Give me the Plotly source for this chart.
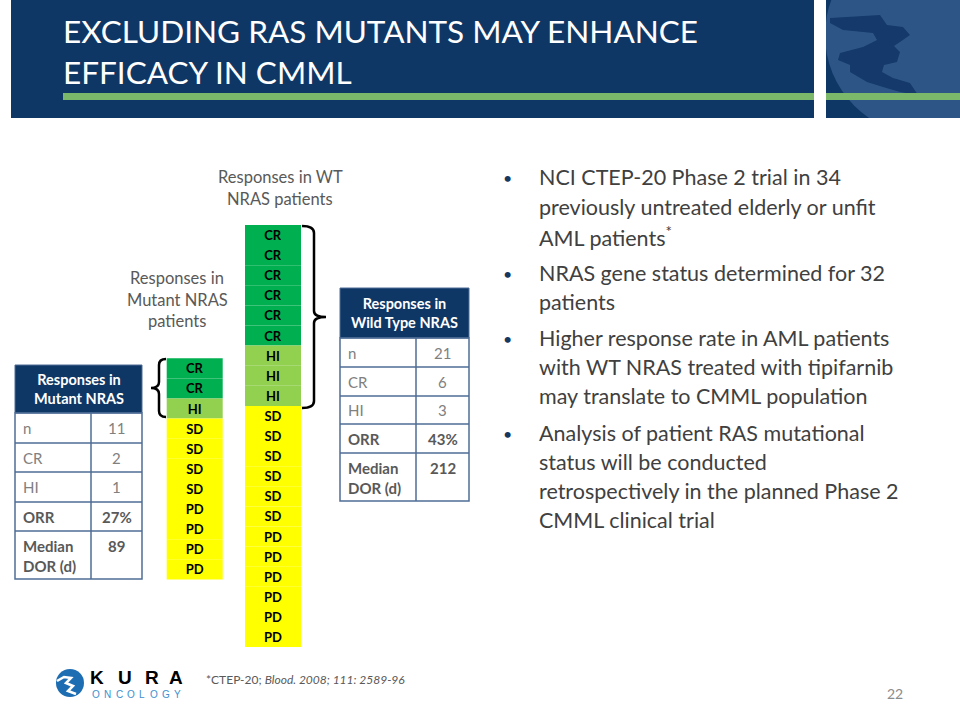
import plotly.graph_objects as go

# ------------------------------------------------------------------ data
title_lines = ["EXCLUDING RAS MUTANTS MAY ENHANCE", "EFFICACY IN CMML"]

mutant_responses = ["CR", "CR", "HI", "SD", "SD", "SD", "SD", "PD", "PD", "PD", "PD"]
wt_responses = ["CR", "CR", "CR", "CR", "CR", "CR", "HI", "HI", "HI",
                "SD", "SD", "SD", "SD", "SD", "SD", "PD", "PD", "PD", "PD", "PD", "PD"]
response_order = ["CR", "HI", "SD", "PD"]
response_colors = {"CR": "#00b050", "HI": "#92d050", "SD": "#ffff00", "PD": "#ffff00"}

wt_label_lines = ["Responses in WT", "NRAS patients"]
mutant_label_lines = ["Responses in", "Mutant NRAS", "patients"]

table_row_labels = ["n", "CR", "HI", "ORR", "Median<br>DOR (d)"]
table_row_bold = [False, False, False, True, True]
mutant_table_title = "Responses in<br>Mutant NRAS"
mutant_table_values = ["11", "2", "1", "27%", "89"]
wt_table_title = "Responses in<br>Wild Type NRAS"
wt_table_values = ["21", "6", "3", "43%", "212"]

bullets = [
    ["NCI CTEP-20 Phase 2 trial in 34", "previously untreated elderly or unfit", "AML patients<sup>*</sup>"],
    ["NRAS gene status determined for 32", "patients"],
    ["Higher response rate in AML patients", "with WT NRAS treated with tipifarnib",
     "may translate to CMML population"],
    ["Analysis of patient RAS mutational", "status will be conducted",
     "retrospectively in the planned Phase 2", "CMML clinical trial"],
]
footnote = "*CTEP-20; <i>Blood. 2008; 111: 2589-96</i>"
page_number = "22"
logo_word = "KURA"
logo_sub = "ONCOLOGY"

# ------------------------------------------------------------------ style
NAVY = "#0f3766"
GREEN_LINE = "#7cb86a"
TABLE_LINE = "#4f6d96"
FONT = "Lato"
CELL_H = 20.1

fig = go.Figure()
shapes = []
ann = []


def add_text(x, y, text, size, color, xanchor="left", yanchor="middle", family=FONT, bold=False, align="left"):
    ann.append(dict(x=x, y=y, xref="x", yref="y", text=text, showarrow=False,
                    xanchor=xanchor, yanchor=yanchor, align=align,
                    font=dict(family=family, size=size, color=color, weight="bold" if bold else "normal")))


# ------------------------------------------------------------------ header
shapes.append(dict(type="rect", x0=11, x1=814, y0=0, y1=118, fillcolor=NAVY, line_width=0, layer="below"))
shapes.append(dict(type="rect", x0=826, x1=960, y0=0, y1=118, fillcolor=NAVY, line_width=0, layer="below"))
shapes.append(dict(type="circle", x0=825, x1=1025, y0=-65, y1=135, fillcolor="#2d5686", line_width=0, layer="below"))
shapes.append(dict(type="rect", x0=814, x1=960, y0=118, y1=140, fillcolor="white", line_width=0, layer="below"))
shapes.append(dict(type="rect", x0=814, x1=826, y0=0, y1=118, fillcolor="white", line_width=0, layer="below"))
continent = [(830, 18), (880, 15), (887, 25), (903, 27), (910, 35), (900, 42), (894, 46), (900, 52),
             (897, 62), (884, 65), (882, 72), (893, 78), (910, 83), (918, 95), (900, 92), (883, 87),
             (867, 82), (850, 72), (850, 65), (838, 60), (840, 53), (863, 47), (877, 40), (873, 33),
             (843, 30), (830, 23)]
shapes.append(dict(type="path", path="M " + " L ".join(f"{a},{b}" for a, b in continent) + " Z",
                   fillcolor="#14396a", line_width=0, layer="below"))
shapes.append(dict(type="rect", x0=63, x1=814, y0=93, y1=100, fillcolor=GREEN_LINE, line_width=0, layer="below"))
shapes.append(dict(type="rect", x0=826, x1=960, y0=93, y1=100, fillcolor=GREEN_LINE, line_width=0, layer="below"))
for i, line in enumerate(title_lines):
    add_text(61, 31 + i * 41, line, 31.5, "white")

# ------------------------------------------------------------------ response columns (bars)
columns = [(mutant_responses, 194.7, 358.3), (wt_responses, 273.0, 225.0)]
for responses, cx, top in columns:
    for cat in response_order:
        idx = [i for i, r in enumerate(responses) if r == cat]
        if not idx:
            continue
        fig.add_trace(go.Bar(
            x=[cx] * len(idx),
            y=[CELL_H] * len(idx),
            base=[top + i * CELL_H for i in idx],
            width=56,
            marker=dict(color=response_colors[cat], line_width=0),
            text=[f"<b>{cat}</b>"] * len(idx),
            textposition="inside", insidetextanchor="middle",
            textfont=dict(family=FONT, size=13, color="black"),
            textangle=0, constraintext="none",
            hoverinfo="skip", showlegend=False))

# brackets
shapes.append(dict(type="path",
                   path="M 166,359 Q 159,359 159,365 L 159,382 Q 159,388 151,388 Q 159,388 159,394 L 159,411 Q 159,417 166,417",
                   line=dict(color="black", width=2.5)))
shapes.append(dict(type="path",
                   path="M 302,226 Q 314,226 314,233 L 314,311 Q 314,317 326,317 Q 314,317 314,323 L 314,401 Q 314,408 302,408",
                   line=dict(color="black", width=2.5)))

for i, line in enumerate(wt_label_lines):
    add_text(280, 177 + i * 22, line, 16.5, "#595959", xanchor="center")
for i, line in enumerate(mutant_label_lines):
    add_text(177, 278 + i * 21.5, line, 16.5, "#595959", xanchor="center")


# ------------------------------------------------------------------ tables
def draw_table(x0, xd, x1, edges, title, values):
    shapes.append(dict(type="rect", x0=x0, x1=x1, y0=edges[0], y1=edges[1], fillcolor=NAVY,
                       line=dict(color=TABLE_LINE, width=1)))
    shapes.append(dict(type="rect", x0=x0, x1=x1, y0=edges[1], y1=edges[-1], fillcolor="rgba(0,0,0,0)",
                       line=dict(color=TABLE_LINE, width=1.5)))
    for e in edges[2:-1]:
        shapes.append(dict(type="line", x0=x0, x1=x1, y0=e, y1=e, line=dict(color=TABLE_LINE, width=1.5)))
    shapes.append(dict(type="line", x0=xd, x1=xd, y0=edges[1], y1=edges[-1], line=dict(color=TABLE_LINE, width=1.5)))
    add_text((x0 + x1) / 2, (edges[0] + edges[1]) / 2, title, 14.5, "white", xanchor="center", bold=True, align="center")
    for k, (lab, val, b) in enumerate(zip(table_row_labels, values, table_row_bold)):
        col = "#595959" if b else "#808080"
        if k == len(values) - 1:
            add_text(x0 + 6, edges[k + 1] + 4, lab, 15, col, yanchor="top", bold=b)
            add_text((xd + x1) / 2, edges[k + 1] + 4, val, 15, col, xanchor="center", yanchor="top", bold=b)
        else:
            yc = (edges[k + 1] + edges[k + 2]) / 2
            add_text(x0 + 6, yc, lab, 15, col, bold=b)
            add_text((xd + x1) / 2, yc, val, 15, col, xanchor="center", bold=b)


draw_table(15, 91, 142, [365, 413, 443, 472, 502, 531, 579], mutant_table_title, mutant_table_values)
draw_table(340, 416, 469, [288, 338, 367, 396, 424, 453, 501], wt_table_title, wt_table_values)

# ------------------------------------------------------------------ bullets
bullet_y = [[177, 207, 236], [273, 302], [338, 367, 396], [433, 462, 491, 520]]
for lines, ys in zip(bullets, bullet_y):
    add_text(507, ys[0], "•", 16, "#17375e", xanchor="center")
    for line, y in zip(lines, ys):
        add_text(537, y, line, 21.5, "#404040")

# ------------------------------------------------------------------ footer
add_text(204, 679, footnote, 12, "#595959")
add_text(895, 693, page_number, 14, "#8c8c8c", xanchor="center")

# logo
shapes.append(dict(type="circle", x0=56, x1=84, y0=669, y1=697, fillcolor="#1d6db3", line_width=0))
shapes.append(dict(type="path", path="M 57,681 L 64,677 L 71,678 L 66,683 L 73,686 L 68,691 L 76,694",
                   line=dict(color="white", width=2.5)))
for ch, x in zip(logo_word, [97, 125, 152, 176]):
    add_text(x, 677, ch, 19, "black", xanchor="center", family="Liberation Sans", bold=True)
for i, ch in enumerate(logo_sub):
    add_text(96 + i * 11.6, 694.5, ch, 10, "#3d8fcf", xanchor="center", family="Liberation Sans")

fig.update_layout(
    width=960, height=720, margin=dict(l=0, r=0, t=0, b=0),
    paper_bgcolor="white", plot_bgcolor="white",
    barmode="overlay",
    uniformtext=dict(minsize=13, mode="show"),
    xaxis=dict(range=[0, 960], visible=False, fixedrange=True),
    yaxis=dict(range=[720, 0], visible=False, fixedrange=True),
    shapes=shapes, annotations=ann, showlegend=False,
)

fig.write_html("out.html", config={"displayModeBar": False},
               post_script="document.body.style.margin='0';")
